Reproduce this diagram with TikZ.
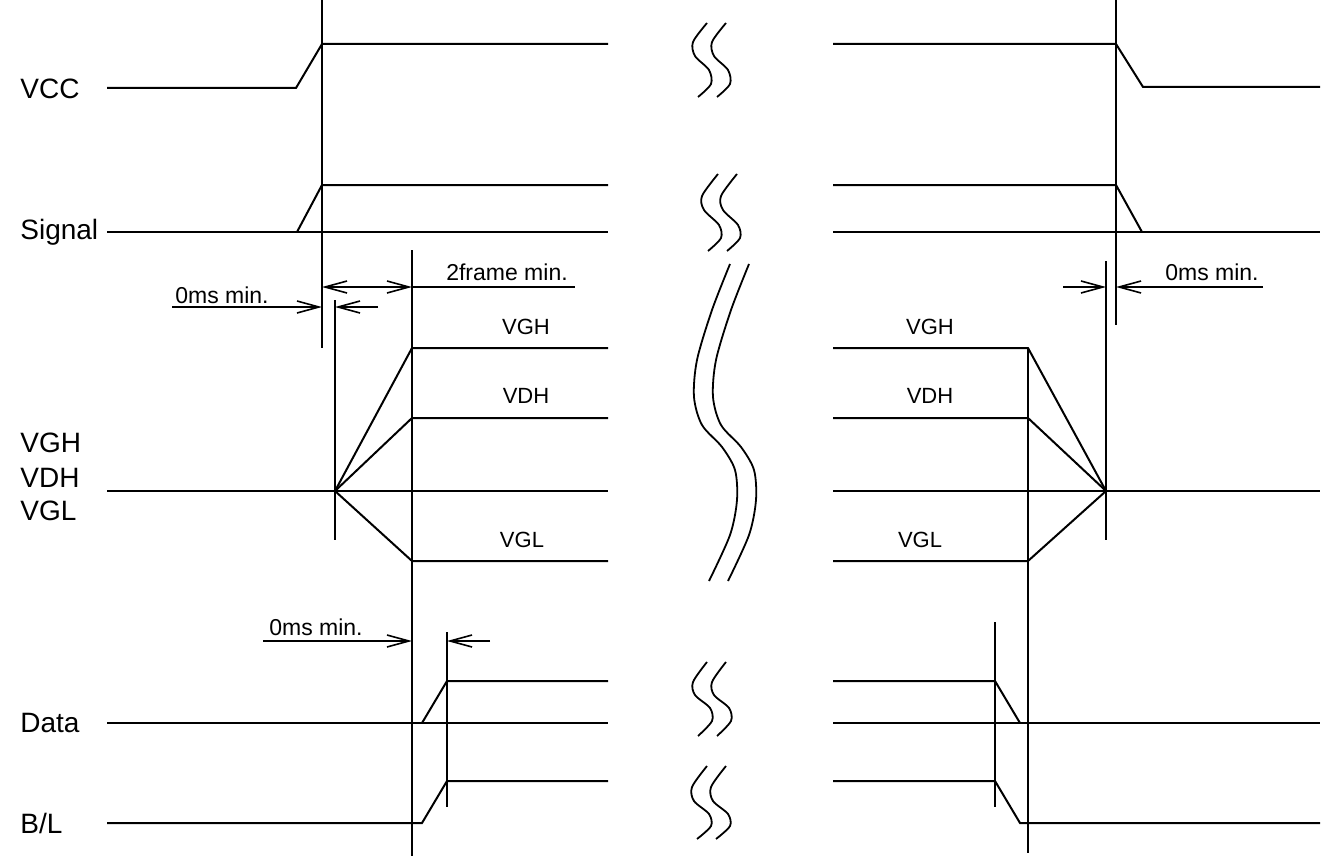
\documentclass[tikz,border=0pt]{standalone}
\usepackage{fontspec}
\setmainfont{Liberation Sans}
\usetikzlibrary{arrows.meta}
\begin{document}
\begin{tikzpicture}[x=0.5pt,y=-0.5pt,
  sig/.style={line width=1pt},
  refl/.style={line width=0.7pt},
  dim/.style={line width=0.8pt},
  tip/.style={-{Straight Barb[length=11pt,width=6pt]}},
  biglab/.style={font=\fontsize{14}{16}\selectfont, anchor=west, inner sep=0},
  fanlab/.style={font=\fontsize{11}{13}\selectfont, inner sep=0},
  dimlab/.style={font=\fontsize{11.5}{13}\selectfont, inner sep=0},
  brk/.style={line width=0.9pt}]
\useasboundingbox (0,0) rectangle (1344,856);
% labels
\node[biglab] (lvcc) at (20,89) {VCC};
\node[biglab] (lsig) at (20,232) {Signal};
\node[biglab] (lvgh) at (20,443) {VGH};
\node[biglab] (lvdh) at (20,478) {VDH};
\node[biglab] (lvgl) at (20,511) {VGL};
\node[biglab] (ldata) at (20,723) {Data};
\node[biglab] (lbl) at (20,823) {B/L};
% VCC
\draw[sig] (107,88) -- (296,88) -- (322,44) -- (608,44);
\draw[sig] (833,44) -- (1116,44) -- (1143,87) -- (1320,87);
% Signal
\draw[sig] (107,232) -- (608,232);
\draw[sig] (297,232) -- (322,185) -- (608,185);
\draw[sig] (833,185) -- (1116,185) -- (1142,232);
\draw[sig] (833,232) -- (1320,232);
% power rails
\draw[sig] (107,491) -- (608,491);
\draw[sig] (833,491) -- (1320,491);
\coordinate (fl) at (335,491);
\coordinate (fr) at (1106,491);
\draw[sig] (fl) -- (412,348) -- (608,348);
\draw[sig] (fl) -- (412,418) -- (608,418);
\draw[sig] (fl) -- (412,561) -- (608,561);
\draw[sig] (833,348) -- (1028,348) -- (fr);
\draw[sig] (833,418) -- (1028,418) -- (fr);
\draw[sig] (833,561) -- (1028,561) -- (fr);
\node[fanlab] (tvgh1) at (526,327) {VGH};
\node[fanlab] (tvdh1) at (526,396) {VDH};
\node[fanlab] (tvgl1) at (522,540) {VGL};
\node[fanlab] (tvgh2) at (930,327) {VGH};
\node[fanlab] (tvdh2) at (930,396) {VDH};
\node[fanlab] (tvgl2) at (920,540) {VGL};
% Data
\draw[sig] (107,723) -- (608,723);
\draw[sig] (422,723) -- (447,681) -- (608,681);
\draw[sig] (833,681) -- (995,681) -- (1020,723);
\draw[sig] (833,723) -- (1320,723);
% B/L
\draw[sig] (107,823) -- (422,823) -- (447,781) -- (608,781);
\draw[sig] (833,781) -- (995,781) -- (1020,823) -- (1320,823);
% reference verticals
\draw[refl] (322,0) -- (322,348);
\draw[refl] (335,300) -- (335,540);
\draw[refl] (412,250) -- (412,856);
\draw[refl] (447,632) -- (447,807);
\draw[refl] (995,622) -- (995,807);
\draw[refl] (1028,348) -- (1028,853);
\draw[refl] (1106,261) -- (1106,540);
\draw[refl] (1116,0) -- (1116,325);
% dimensions
\coordinate (a1) at (172,307); \coordinate (a2) at (378,307);
\draw[dim,tip] (a1) -- (322,307);
\draw[dim,tip] (a2) -- (335,307);
\node[dimlab] (t0a) at (222,295) {0ms min.};
\coordinate (b1) at (322,287); \coordinate (b2) at (412,287); \coordinate (b3) at (575,287);
\draw[dim,{Straight Barb[length=11pt,width=6pt]}-{Straight Barb[length=11pt,width=6pt]}] (b1) -- (b2);
\draw[dim] (b2) -- (b3);
\node[dimlab] (t2f) at (507,272) {2frame min.};
\coordinate (c1) at (1063,287); \coordinate (c2) at (1263,287);
\draw[dim,tip] (c1) -- (1106,287);
\draw[dim,tip] (c2) -- (1116,287);
\node[dimlab] (t0b) at (1212,272) {0ms min.};
\coordinate (d1) at (263,641); \coordinate (d2) at (490,641);
\draw[dim,tip] (d1) -- (412,641);
\draw[dim,tip] (d2) -- (447,641);
\node[dimlab] (t0c) at (316,627) {0ms min.};
% break marks
\foreach \d in {0,19} {
  \draw[brk,xshift=\d*0.5pt] plot[smooth] coordinates {(707,23) (693,42) (695,56) (709,70) (711,84) (698,97)};
  \draw[brk,xshift=\d*0.5pt] plot[smooth] coordinates {(718,174) (702,196) (704,210) (719,225) (721,238) (708,251)};
  \draw[brk,xshift=\d*0.5pt] plot[smooth] coordinates {(730,264) (712,310) (697,360) (694,397) (702,425) (722,447) (735,470) (737,500) (730,535) (709,581)};
  \draw[brk,xshift=\d*0.5pt] plot[smooth] coordinates {(707,662) (693,682) (695,695) (710,708) (712,721) (698,736)};
  \draw[brk,xshift=\d*0.5pt] plot[smooth] coordinates {(707,766) (692,787) (694,801) (709,814) (711,826) (697,839)};
}
\end{tikzpicture}
\end{document}
